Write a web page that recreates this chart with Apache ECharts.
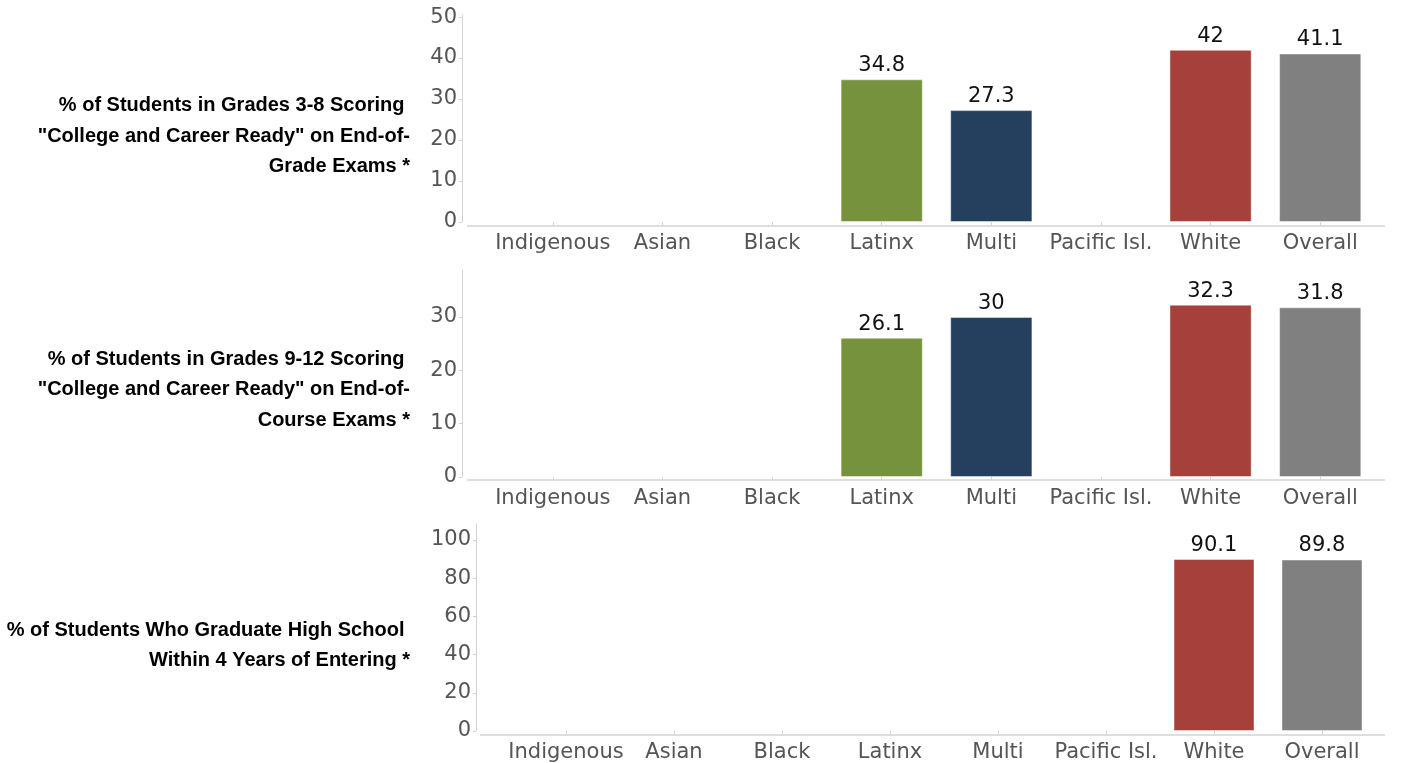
<!DOCTYPE html>
<html>
<head>
<meta charset="utf-8">
<script src="https://cdn.jsdelivr.net/npm/echarts@6/dist/echarts.min.js"></script>
<style>html,body{margin:0;padding:0;background:#fff}#c{width:1417px;height:763px}</style>
</head>
<body>
<div id="c"></div>
<script>
const categories = ['Indigenous','Asian','Black','Latinx','Multi','Pacific Isl.','White','Overall'];
const categoryColors = ['#808080','#808080','#808080','#76923c','#253f5f','#808080','#a5403b','#808080'];
const rowLabels = [
  '% of Students in Grades 3-8 Scoring \n"College and Career Ready" on End-of-\nGrade Exams *',
  '% of Students in Grades 9-12 Scoring \n"College and Career Ready" on End-of-\nCourse Exams *',
  '% of Students Who Graduate High School \nWithin 4 Years of Entering *'
];
const eogValues = [null,null,null,34.8,27.3,null,42,41.1];
const eocValues = [null,null,null,26.1,30,null,32.3,31.8];
const gradValues = [null,null,null,null,null,null,90.1,89.8];
const yTicks1 = [0,10,20,30,40,50];
const yTicks2 = [0,10,20,30];
const yTicks3 = [0,20,40,60,80,100];

const panels = [
  {values: eogValues, ticks: yTicks1, max: 50.5, top: 15, left: 498, right: 42, axisX: 462, lineY: 226, lineX0: 467, labelY: 136},
  {values: eocValues, ticks: yTicks2, max: 38.8, top: 270, left: 498, right: 42, axisX: 462, lineY: 480, lineX0: 467, labelY: 389.5},
  {values: gradValues, ticks: yTicks3, max: 108.4, top: 524, left: 512, right: 41, axisX: 476, lineY: 735, lineX0: 480, labelY: 645.5}
];
const H = 207;
const axisGray = '#d3d3d3';
const labelGray = '#555555';
const font = '"DejaVu Sans", sans-serif';

const grid = [], xAxis = [], yAxis = [], series = [], graphic = [];
panels.forEach((p, i) => {
  grid.push({left: p.left, right: p.right, top: p.top, height: H});
  xAxis.push({
    type: 'category', gridIndex: i, data: categories, offset: 5,
    axisLine: {show: false},
    axisTick: {show: true, alignWithLabel: true, length: 3, lineStyle: {color: axisGray}},
    axisLabel: {color: labelGray, fontSize: 21, fontFamily: font, margin: 6, interval: 0}
  });
  yAxis.push({
    type: 'value', gridIndex: i, min: 0, max: p.max, offset: p.left - p.axisX,
    splitLine: {show: false},
    axisLine: {show: true, lineStyle: {color: axisGray}},
    axisTick: {show: true, length: 3, customValues: p.ticks, lineStyle: {color: axisGray}},
    axisLabel: {color: labelGray, fontSize: 21, fontFamily: font, margin: 5, customValues: p.ticks}
  });
  series.push({
    type: 'bar', xAxisIndex: i, yAxisIndex: i, barWidth: '75%',
    data: p.values.map((v, k) => ({value: v, itemStyle: {color: categoryColors[k]}})),
    itemStyle: {borderColor: 'rgba(255,255,255,0.45)', borderWidth: 1},
    label: {show: true, position: 'top', distance: 3, color: '#111', fontSize: 21, fontFamily: font},
    emphasis: {disabled: true}
  });
  graphic.push({
    type: 'line', shape: {x1: p.lineX0, y1: p.lineY, x2: 1385, y2: p.lineY},
    style: {stroke: axisGray, lineWidth: 1.5}, silent: true
  });
  graphic.push({
    type: 'text', x: 410, y: p.labelY,
    style: {
      text: rowLabels[i], align: 'right', verticalAlign: 'middle',
      font: 'bold 20px "Liberation Sans", Arial, sans-serif', lineHeight: 30.5, fill: '#000'
    }
  });
});

const chart = echarts.init(document.getElementById('c'), null, {renderer: 'canvas'});
chart.setOption({animation: false, grid, xAxis, yAxis, series, graphic});
</script>
</body>
</html>
